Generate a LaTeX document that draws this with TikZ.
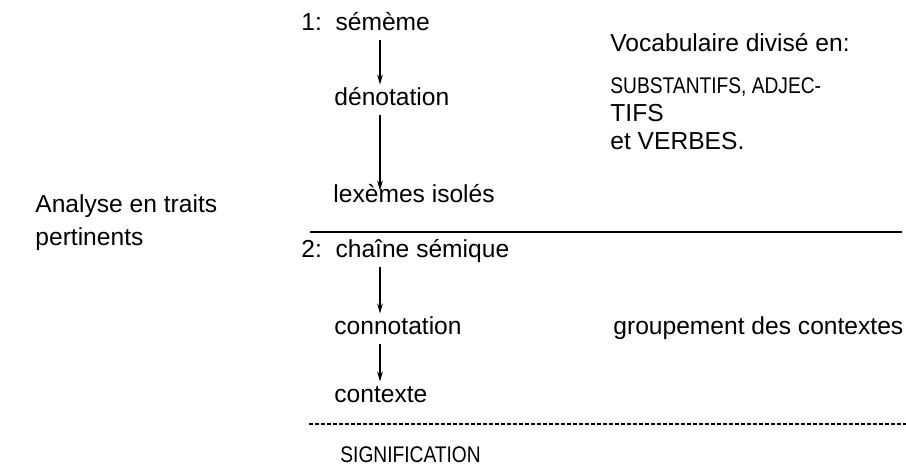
\documentclass[tikz,border=0pt]{standalone}
\usepackage{fontspec}
\usepackage{graphicx}
\setmainfont{Liberation Sans}
\usetikzlibrary{arrows.meta}

\begin{document}
\begin{tikzpicture}[x=0.5pt, y=-0.5pt, font=\fontsize{12.3pt}{15pt}\selectfont,
  txt/.style={anchor=base west, inner sep=0pt, text height=9pt, text depth=3pt},
  down/.style={-{Stealth[length=5pt,width=2.8pt]}, line width=0.85pt, shorten <=1.5pt, shorten >=1.5pt}]

\useasboundingbox (0,0) rectangle (906,469);

\begin{scope}
\coordinate (ax) at (380,0);
\coordinate (R1) at (310,232);
\coordinate (R2) at (902,232);
\coordinate (S1) at (309,424);
\coordinate (S2) at (906,424);

% left column
\node[txt] (sem) at (301,31) {1:\ \ sémème};
\node[txt] (den) at (334,106) {dénotation};
\node[txt] (lex) at (333,203) {lexèmes isolés};
\node[txt] (cha) at (301,258) {2:\ \ chaîne sémique};
\node[txt] (con) at (334,335) {connotation};
\node[txt] (ctx) at (334,403) {contexte};
\node[txt] (sig) at (340,463) {\scalebox{0.78}[0.92]{SIGNIFICATION}};

\node[txt] (ana) at (35,213) {Analyse en traits};
\node[txt] (per) at (35,246) {pertinents};

% right column
\node[txt] (voc) at (610,52) {Vocabulaire divisé en:};
\node[txt] (sub) at (610,94) {\scalebox{0.78}[0.92]{SUBSTANTIFS, ADJEC-}};
\node[txt] (tif) at (610,122) {TIFS};
\node[txt] (ver) at (610,150) {et VERBES.};
\node[txt] (grp) at (613,335) {groupement des contextes};

\draw[down] (sem.south -| ax) -- (den.north -| ax);
\draw[down, shorten >=-3pt] (den.south -| ax) -- (lex.north -| ax);
\draw[down] (cha.south -| ax) -- (con.north -| ax);
\draw[down] (con.south -| ax) -- (ctx.north -| ax);

\draw[line width=0.75pt] (R1) -- (R2);
\draw[line width=0.6pt, dash pattern=on 2pt off 1pt] (S1) -- (S2);
\end{scope}

\end{tikzpicture}
\end{document}
